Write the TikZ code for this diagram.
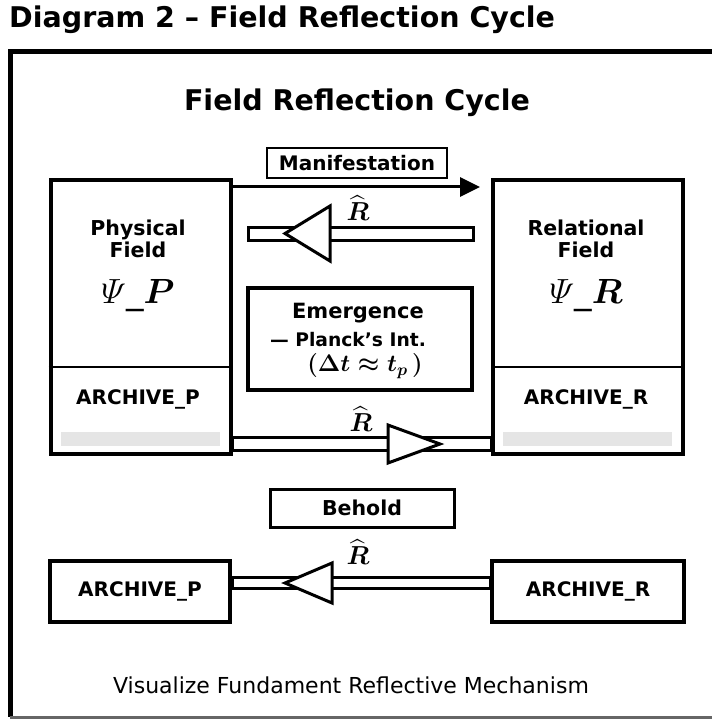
\RequirePackage{fix-cm}
\documentclass[tikz,border=0pt]{standalone}
\usepackage{amsmath,amssymb}
\usepackage[no-math]{fontspec}
\setmainfont{DejaVu Sans}
\usetikzlibrary{arrows.meta}
\begin{document}
\begin{tikzpicture}[x=1pt,y=-1pt,
  bigbox/.style={draw,line width=4,minimum width=#1,inner sep=0,anchor=north west},
  lbl/.style={font=\fontsize{20.5}{22}\selectfont\bfseries,align=center,inner sep=0},
  archl/.style={font=\fontsize{20}{22}\selectfont\bfseries,inner sep=0},
  tagbox/.style={draw,line width=2.6,inner sep=0},
  psil/.style={font=\fontsize{35}{38}\selectfont,inner sep=0},
  rhat/.style={font=\fontsize{26}{28}\selectfont,inner sep=0},
  hollow/.style={draw,line width=3,fill=white,line join=miter}]
\useasboundingbox (0,0) rectangle (711,719);
% titles
\node[anchor=west,inner sep=0,font=\fontsize{28.5}{32}\selectfont\bfseries] (title) at (9,20) {Diagram 2 – Field Reflection Cycle};
\draw[line width=5] (716,52) -- (10,52) -- (10,717);
\draw[line width=2.5,black!60] (10,717.5) -- (716,717.5);
\node[inner sep=0,font=\fontsize{28.5}{32}\selectfont\bfseries] (sub) at (357,103) {Field Reflection Cycle};
% big boxes
\node[bigbox=180,minimum height=274] (PF) at (48.5,178) {};
\node[bigbox=190,minimum height=274] (RF) at (491,178) {};
\fill[black!10] (61,432) rectangle (220,446);
\fill[black!10] (503,432) rectangle (672,446);
\coordinate (dv) at (0,367);
\draw[line width=2.5] (PF.west |- dv) -- (PF.east |- dv);
\draw[line width=2.5] (RF.west |- dv) -- (RF.east |- dv);
\node[lbl] (pft) at (138,239) {Physical\\Field};
\node[psil] (psip) at (138,296) {$\varPsi$\_$\boldsymbol{P}$};
\node[archl] (arp) at (138,399) {ARCHIVE\_P};
\node[lbl] (rft) at (586,239) {Relational\\Field};
\node[psil] (psir) at (586,296) {$\varPsi$\_$\boldsymbol{R}$};
\node[archl] (arr) at (586,399) {ARCHIVE\_R};
% manifestation
\node[tagbox,minimum width=180,minimum height=30] (man) at (357,163) {};
\node[lbl,font=\fontsize{20}{22}\selectfont\bfseries] (mant) at (man) {Manifestation};
\coordinate (my) at (0,187);
\coordinate (m2) at (480,187);
\draw[line width=3,-{Triangle[length=20,width=19]}] (PF.east |- my) -- (m2);
% upper hollow arrow (left)
\coordinate (u1) at (248,227);
\coordinate (u2) at (473,240);
\draw[hollow] (u1) rectangle (u2);
\draw[hollow] (285,233.5) -- (330,206) -- (330,261) -- cycle;
\node[rhat] (r1) at (358,208) {$\widehat{\boldsymbol{R}}$};
% emergence
\node[draw,line width=4,minimum width=224,minimum height=102,inner sep=0] (em) at (360,339) {};
\node[inner sep=0,font=\fontsize{21}{24}\selectfont\bfseries] (emt) at (358,313) {Emergence};
\node[inner sep=0,font=\fontsize{18.7}{22}\selectfont\bfseries] (plt) at (348,340) {— Planck’s Int.};
\node[inner sep=0,font=\fontsize{24}{28}\selectfont\boldmath] (dtt) at (365,366) {$(\Delta t\approx t_p\mkern3mu)$};
% lower hollow arrow (right)
\coordinate (ly1) at (0,437);
\coordinate (ly2) at (0,450);
\draw[hollow] (PF.east |- ly1) rectangle (RF.west |- ly2);
\draw[hollow] (440,444) -- (388,425) -- (388,463) -- cycle;
\node[rhat] (r2) at (361,419) {$\widehat{\boldsymbol{R}}$};
% behold
\node[tagbox,line width=3,minimum width=184,minimum height=38] (beh) at (362,508) {};
\node[lbl] (beht) at (beh) {Behold};
% bottom row
\node[bigbox=180,minimum height=61] (AP) at (48,559) {};
\node[archl] (apt) at (AP) {ARCHIVE\_P};
\node[bigbox=192,minimum height=61] (AR) at (490,559) {};
\node[archl] (art) at (AR) {ARCHIVE\_R};
\coordinate (by1) at (0,577);
\coordinate (by2) at (0,588);
\draw[hollow] (AP.east |- by1) rectangle (AR.west |- by2);
\draw[hollow] (285,583) -- (332,563) -- (332,603) -- cycle;
\node[rhat] (r3) at (358,552) {$\widehat{\boldsymbol{R}}$};
% caption
\node[inner sep=0,font=\fontsize{22}{26}\selectfont] (cap) at (351,685) {Visualize Fundament Reflective Mechanism};
\end{tikzpicture}
\end{document}
